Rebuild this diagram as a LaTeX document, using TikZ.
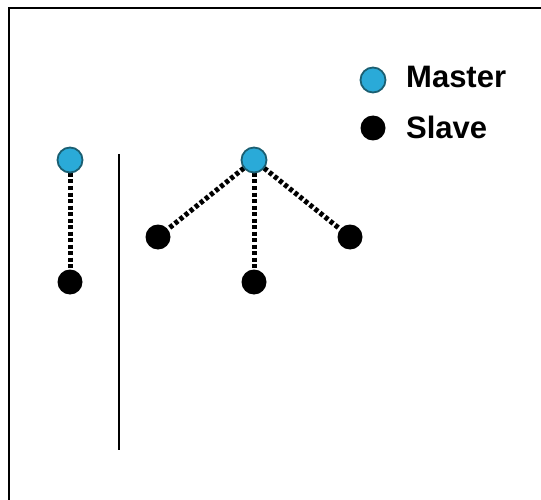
\documentclass[tikz,border=0pt]{standalone}
\usepackage{fontspec}
\setmainfont{Liberation Sans}
\definecolor{mastercyan}{HTML}{2AAAD8}
\definecolor{masteredge}{HTML}{1B5F72}
\begin{document}
\begin{tikzpicture}[x=1pt,y=-1pt,
  masternode/.style={circle,fill=mastercyan,draw=masteredge,line width=1.8pt,minimum size=25pt,inner sep=0pt},
  slavenode/.style={circle,fill=black,minimum size=25pt,inner sep=0pt},
  link/.style={line width=5pt,dash pattern=on 4pt off 2.5pt},
  legendtext/.style={font=\bfseries\fontsize{31}{36}\selectfont,anchor=west,inner sep=0pt},
  frameline/.style={line width=2pt}]
  \useasboundingbox (0,0) rectangle (541,500);
  % frame edges
  \coordinate (ftl) at (9,8);
  \coordinate (ftr) at (541,8);
  \coordinate (fbl) at (9,500);
  \draw[frameline] (fbl) -- (ftl) -- (ftr);
  % separator
  \coordinate (septop) at (119,154);
  \coordinate (sepbot) at (119,450);
  \draw[line width=1.2pt] (septop) -- (sepbot);
  % single pair
  \node[slavenode] (s0) at (70,282) {};
  \draw[link] (70,160) -- (s0);
  \node[masternode] (m0) at (70,160) {};
  % star
  \node[slavenode] (s1) at (158,237) {};
  \node[slavenode] (s2) at (254,282) {};
  \node[slavenode] (s3) at (350,237) {};
  \coordinate (mc) at (254,160);
  \draw[link] (mc) -- (s1);
  \draw[link] (mc) -- (s2);
  \draw[link] (mc) -- (s3);
  \node[masternode] (m1) at (mc) {};
  % legend
  \node[masternode] (lm) at (373,80) {};
  \node[slavenode] (ls) at (373,128) {};
  \node[legendtext] (lmt) at (406,77) {Master};
  \node[legendtext] (lst) at (406,127) {Slave};
\end{tikzpicture}
\end{document}
